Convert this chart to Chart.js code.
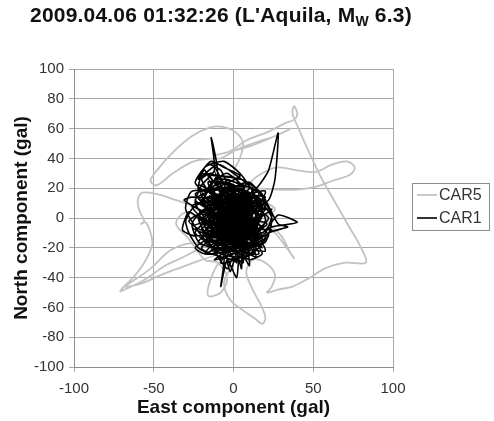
<!DOCTYPE html>
<html>
<head>
<meta charset="utf-8">
<script src="https://cdn.jsdelivr.net/npm/chart.js@4.4.1/dist/chart.umd.min.js"></script>
<style>
    html, body { margin: 0; padding: 0; background: #fff; }
    #wrap { position: relative; width: 494px; height: 421px; }
    #title {
        position: absolute; left: 30px; top: 3px; white-space: nowrap; letter-spacing: 0.2px;
        font: bold 21px "Liberation Sans", Arial, sans-serif; color: #111;
    }
    #title sub { font-size: 14px; vertical-align: -4px; line-height: 0; }
</style>
</head>
<body>
<div id="wrap">
    <canvas id="chart" width="494" height="421"></canvas>
    <div id="title">2009.04.06 01:32:26 (L'Aquila, M<sub>W</sub> 6.3)</div>
</div>
<script>
// Ejes
const xTicks = [-100, -50, 0, 50, 100];
const yTicks = [-100, -80, -60, -40, -20, 0, 20, 40, 60, 80, 100];

// CAR5 (gris)
const car5East = [0, 4, -3, -10, -18, -26, -36, -48, -57, -60, -59, -56, -58, -55, -52, -51, -56, -63, -71, -66,
    -55, -43, -33, -24, -20, -28, -40, -52, -64, -68, -58, -45, -35, -25, -14, -6, -2, -6, -2, 6,
    14, 18, 20, 17, 12, 8, 12, 20, 26, 24, 21, 28, 37, 48, 57, 70, 83, 80, 72, 64,
    55, 47, 40, 37, 38, 40, 38, 33, 22, 8, -2, -12, -4, 10, 24, 36, 26, 12, 2, -8,
    -12, -25, -38, -48, -52, -48, -38, -26, -14, -6, 2, 6, 4, 0, 6, 15, 28, 40, 52, 62,
    73, 76, 71, 62, 52, 40, 28, 18, 10, 18, 26, 20, 30, 36, 38, 32, 24, 14, 6, 0,
    -8, -14, -16, -8, -4, -10, -18, -28, -36, -30, -20, -12, -4, 0];
const car5North = [0, -6, -10, -6, 2, 8, 12, 16, 17, 12, 5, -2, -4, -3, -10, -18, -30, -40, -49, -47,
    -41, -32, -27, -22, -18, -17, -22, -34, -43, -46, -44, -38, -34, -30, -26, -24, -32, -44, -55, -62,
    -68, -71, -67, -58, -48, -36, -28, -30, -38, -46, -50, -48, -46, -40, -34, -30, -30, -20, -5, 10,
    27, 45, 62, 70, 75, 70, 66, 64, 58, 52, 45, 42, 44, 48, 54, 60, 55, 50, 46, 40,
    40, 38, 30, 22, 25, 32, 44, 55, 61, 61, 57, 50, 40, 30, 22, 20, 19, 19, 21, 25,
    29, 34, 38, 36, 31, 32, 34, 30, 22, 12, 6, 0, -12, -24, -27, -18, -8, -2, -8, -20,
    -28, -40, -52, -50, -40, -30, -28, -14, -4, 4, 0, 6, 2, 0];

// CAR1 (negro)
const car1East = [0, 6, -5, 9, -8, 4, -3, 11, -12, 7, -6, 13, -14, 3, -2, 15, -16, 8, -9, 17,
    -18, -10, -14, -12, -20, -24, -14, 10, 18, -4, -22, -18, -6, 4, 12, 20, 6, -12, -20, -28,
    -32, -24, -8, 10, 22, 26, 28, 22, 16, 4, -10, -18, -6, -8, -4, 2, 4, 10, 8, -2,
    14, 24, 40, 28, 18, 6, -6, -26, -31, -22, -8, 4, 12, 2, -10, -16, -10, 2, 14, 20,
    10, -4, -12, -6, 6, 12, 4, -8, -14, -4, 8, 16, 8, -6, -2, 10, 6, -4, 2, -10,
    -16, -8, 2, 8, 14, 18, 10, -2, -14, -22, -26, -18, -4, 8, 2, -6, 4, -2, -10, 0,
    12, 18, 12, 0, -12, -20, -12, -4, 0, 6, 6, 0, -8, -2, 6, 2, -6, -14, -20, -14,
    -4, 6, 16, 24, 20, 10, 0, -8, -16, -24, -18, -6, 4, -2, 3, -3, 5, -1, -5, 1,
    8, -10, 12, -12, 2, 0, -7, 9, -3, 0,
    -3, 7, -9, 5, -11, 8, -2, 12, -7, 3, -13, 10, -5, 14, -15, 2, -4, 11, -12, 6,
    -17, 9, -1, 15, -10, 4, -6, 13, -14, 1, -19, 16, -8, 7, -3, 10, -16, 5, -11, 18,
    -6, 3, -12, 9, -18, 0, 12, -7, 6, -2, 14, -13, 4, -9, 11, -5, 17, -20, 2, -4,
    8, -10, 13, -15, 6, -1, 10, -8, 3, -14, 15, -3, 7, -11, 12, -17, 1, -6, 9, -4,
    -2, 2, 5, 4, -9, 11, -13, 6, -7, 14, -12, 8, -5, 3, -10, 16, -16, 0, 13, -8,
    20, -21, -6, 4, -18, -24, -16, -8, -2, 8, 14, 18, 22, 28, 34, 22, 16, 8, -4, -14,
    -22, -28, -30, -26, -20, -10, 4, -3, 8, -6, 10, -13, 5, -9, 12, -1, 3, -5, 6, -2,
    0, -8, 7, -4, 9, -11, 2, -3, 15, -15, 4, -6, 11, -12, 1,
    -18, 16, -20, 19, -8, 10, -22, 21, -14, 12, -24, 18, -16, 6, -20, 20, -26, 14, -12, 2,
    -22, 22, -18, 16, -10, 20, -26, 24, -16, 8, -20, -14, -6, 4, -24, 18, -12, 22, -20, 12,
    -28, 20, -8, 14, -18, -22, -10, 0, 10, -24, 16, -14, 18, -6, 24, -20, 10, -16, 6, -22,
    14, -12, 20, -18, 12, -14, 16, -10, 8, -20, 18, -6, -2, 15, -15, 10, -18, 6, -8, 14,
    -12, -4, 6, -26, -30, -20, -8, 4, 12, 20, 24, 18, 8, -4, -14, -22, -16, -6, 6, 0];
const car1North = [0, 8, -7, 3, 5, -10, 11, -4, -2, 12, -14, 6, 9, -16, 15, -8, -6, 16, -18, 2,
    12, 30, 54, 32, 22, 10, -4, -14, 8, 24, 18, 34, 38, 30, 18, -2, -20, -16, -2, 4,
    -8, -12, -8, 4, 12, 26, 57, 32, 22, 10, 2, -10, -24, -46, -28, -40, -22, -32, -18, -6,
    -12, -6, -3, 2, -10, 2, 12, 14, 12, 6, -2, -8, 10, 20, 14, 2, -12, -14, -2, 10,
    24, 18, 6, -6, -4, 4, 12, 8, -8, -18, -12, 6, 14, 4, -10, -6, 6, 2, -4, 10,
    20, 28, 26, 8, -16, -24, -28, -20, -20, -16, -4, 6, -2, -2, 6, -4, -6, 8, -4, -12,
    -8, 2, 14, 16, 12, -6, -22, -34, -26, -30, -12, 4, 0, -6, 0, 10, 16, 16, 26, 30,
    22, 16, 12, 0, -16, -20, -16, -12, -14, -20, -24, -16, -2, 2, 3, -3, -1, 5, 1, -5,
    10, -10, -2, 4, 14, -8, 9, -9, 0, 0,
    4, -2, -6, 9, 3, -11, 13, 1, -13, 7, -1, 10, -9, -5, 7, -12, 16, -14, -10, 14,
    2, -7, -17, 4, 12, -5, 8, -10, -14, 18, -4, -2, -20, 5, -3, -18, 10, 20, -7, -12,
    1, -9, 15, 12, -16, -22, -4, 6, -15, 10, 8, -5, 2, 18, -8, -16, 10, 0, -6, 12,
    -24, -2, 14, -12, 0, -14, 6, 14, -19, 4, -14, 22, -10, -18, 16, 8, -8, -4, 3, -26,
    -36, -24, -34, -18, -10, 0, 10, 11, -8, -7, 1, 17, 4, -13, 7, -4, -8, 15, -17, -14,
    6, 12, 26, 22, 18, 24, 36, 32, 20, 24, 20, 16, 8, -4, -6, -10, -20, -26, -20, -24,
    -20, -10, -2, 6, 10, -4, 6, -7, -3, 11, -12, -3, 13, -15, 6, 3, -1, -2, 4, -9,
    9, 2, -6, 6, 9, -11, -16, 16, 0, -3, -3, -10, 11, 12, -1,
    14, -18, -14, 10, 24, -24, 2, -4, -22, 20, 16, -20, 28, -28, -20, 14, 8, -26, 34, -30,
    22, -12, -24, 16, 26, -22, -6, 6, -18, 24, 30, 38, 34, 28, 12, -14, -28, 0, 18, -22,
    -2, 18, -30, -20, 32, 26, 36, 30, 20, -10, -24, 20, 4, -26, -8, -8, 16, 24, -22, -16,
    12, -20, -16, 6, -12, 16, -8, -16, 18, 12, -6, -22, 22, -15, 15, -18, -6, 16, -18, 2,
    24, 30, 20, 18, 6, -12, -24, -26, -16, -10, 2, 12, 14, 18, 10, 0, -12, -14, -12, 0];

function toPoints(xs, ys) {
    return xs.map(function(x, i) { return { x: x, y: ys[i] }; });
}

// Leyenda dibujada a mano (caja a la derecha)
const legendBox = {
    id: 'legendBox',
    afterDraw: function(chart) {
        const ctx = chart.ctx;
        ctx.save();
        ctx.strokeStyle = '#8c8c8c';
        ctx.lineWidth = 1;
        ctx.strokeRect(412.5, 183.5, 77, 47);
        const items = [chart.data.datasets[1], chart.data.datasets[0]];
        ctx.font = '16px "Liberation Sans", Arial, sans-serif';
        ctx.textBaseline = 'middle';
        items.forEach(function(ds, i) {
            const y = 195 + i * 23;
            ctx.strokeStyle = ds.borderColor;
            ctx.lineWidth = ds.borderWidth;
            ctx.beginPath();
            ctx.moveTo(417, y);
            ctx.lineTo(437, y);
            ctx.stroke();
            ctx.fillStyle = '#333';
            ctx.fillText(ds.label, 439, y + 1);
        });
        ctx.restore();
    }
};

new Chart(document.getElementById('chart'), {
    type: 'scatter',
    data: {
        datasets: [
            {
                label: 'CAR1',
                data: toPoints(car1East, car1North),
                showLine: true,
                borderColor: '#000000',
                borderWidth: 1.6,
                pointRadius: 0,
                tension: 0.2,
                order: 1
            },
            {
                label: 'CAR5',
                data: toPoints(car5East, car5North),
                showLine: true,
                borderColor: '#c2c2c2',
                borderWidth: 1.8,
                pointRadius: 0,
                tension: 0.35,
                order: 2
            }
        ]
    },
    options: {
        responsive: false,
        animation: false,
        layout: { padding: { left: 6, top: 69, right: 101, bottom: 0 } },
        plugins: {
            legend: { display: false },
            tooltip: { enabled: false }
        },
        scales: {
            x: {
                min: -100, max: 100,
                afterBuildTicks: function(s) { s.ticks = xTicks.map(function(v) { return { value: v }; }); },
                afterFit: function(s) { s.height = 54; },
                grid: { color: '#a8a8a8', tickLength: 5 },
                border: { color: '#8c8c8c' },
                ticks: { color: '#333', padding: 8, font: { family: '"Liberation Sans", Arial', size: 15 } },
                title: {
                    display: true, text: 'East component (gal)', color: '#111',
                    padding: { top: 0, bottom: 2 },
                    font: { family: '"Liberation Sans", Arial', size: 19, weight: 'bold' }
                }
            },
            y: {
                min: -100, max: 100,
                afterBuildTicks: function(s) { s.ticks = yTicks.map(function(v) { return { value: v }; }); },
                afterFit: function(s) { s.width = 68; },
                grid: { color: '#a8a8a8', tickLength: 5 },
                border: { color: '#8c8c8c' },
                ticks: { color: '#333', padding: 5, font: { family: '"Liberation Sans", Arial', size: 15 } },
                title: {
                    display: true, text: 'North component (gal)', color: '#111',
                    padding: { top: 4, bottom: 0 },
                    font: { family: '"Liberation Sans", Arial', size: 19, weight: 'bold' }
                }
            }
        }
    },
    plugins: [legendBox]
});
</script>
</body>
</html>
